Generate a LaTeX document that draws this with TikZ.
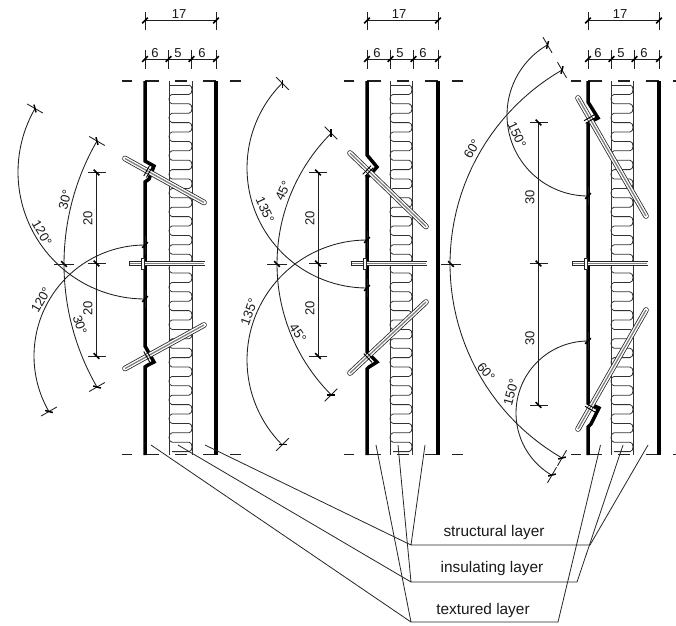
\documentclass[tikz,border=0pt]{standalone}
\usepackage{fontspec}
\setmainfont{Liberation Sans}
\tikzset{
  thinl/.style={draw=black!88,line width=0.85pt},
  slashl/.style={draw=black,line width=1.5pt},
  wallline/.style={draw=black,line width=3.5pt,miter limit=10},
  battline/.style={draw=black!80,line width=0.8pt},
  leader/.style={draw=black!85,line width=0.8pt},
  dim/.style={font=\fontsize{13}{15}\selectfont,inner sep=0pt,text=black!90},
  lab/.style={font=\fontsize{15.4}{17}\selectfont,inner sep=0pt,text=black!90},
}
\newcommand\tk[4][9]{%
  \draw[thinl] ({#2+#1*cos(#4)},{#3+#1*sin(#4)})--({#2-#1*cos(#4)},{#3-#1*sin(#4)});
  \draw[slashl] ({#2+4*cos(#4+45)},{#3+4*sin(#4+45)})--({#2-4*cos(#4+45)},{#3-4*sin(#4+45)});}
\newcommand\arcline[5]{\draw[thinl] plot[domain=#4:#5,samples=50] ({#1+#3*cos(\x)},{#2+#3*sin(\x)});}
% batt insulation between x=#1 and x=#2
\newcommand\batt[2]{%
  \draw[battline] (#1,81)--(#1,455) (#2,81)--(#2,455);
  \draw[battline] (#1,85)--(#2-3,85);
  \foreach \i in {0,...,38}{%
    \pgfmathsetmacro\ya{85+9.4*\i}\pgfmathsetmacro\yb{\ya+9.4}%
    \pgfmathtruncatemacro\odd{mod(\i,2)}%
    \ifnum\odd=0
      \draw[battline] (#2-3,\ya) .. controls (#2+1,\ya) and (#2+1,\yb) .. (#2-3,\yb)--(#1+3,\yb);
    \else
      \draw[battline] (#1+3,\ya) .. controls (#1-1,\ya) and (#1-1,\yb) .. (#1+3,\yb)--(#2-3,\yb);
    \fi}}
\newcommand\rodd[4]{%
  \draw[black!85,line width=5.6pt,line cap=round] (#1,#2)--(#3,#4);
  \draw[white,line width=4pt,line cap=round] (#1,#2)--(#3,#4);
  \draw[black!50,line width=1.3pt] (#1,#2)--(#3,#4);}
% washer: centre, angle of the rod
\newcommand\washer[3]{%
  \draw[black,line width=0.9pt] ({#1+1.5*cos(#3)+6*cos(#3+90)},{#2+1.5*sin(#3)+6*sin(#3+90)})--({#1+1.5*cos(#3)-6*cos(#3+90)},{#2+1.5*sin(#3)-6*sin(#3+90)})
   ({#1-1.5*cos(#3)+6*cos(#3+90)},{#2-1.5*sin(#3)+6*sin(#3+90)})--({#1-1.5*cos(#3)-6*cos(#3+90)},{#2-1.5*sin(#3)-6*sin(#3+90)});}
\newcommand\bolt[1]{%
  \draw[black!85,line width=5pt] (#1-16,263.5)--(#1+60,263.5);
  \draw[white,line width=3.5pt] (#1-15.5,263.5)--(#1+59.5,263.5);
  \draw[black!50,line width=1.6pt] (#1-15,263.5)--(#1+59,263.5);
  \draw[black!85,fill=white,line width=0.8pt] (#1-4,258)rectangle(#1-0.5,269);}
\newcommand\dashes[2]{%
  \foreach \y in {81,454.5}{%
    \draw[thinl,line width=1.1pt] (#1,\y)--(#1+10,\y) (#2,\y)--(#2+14,\y) (#2+30,\y)--(#2+42,\y) (#2+58,\y)--(#2+71,\y) (#2+85,\y)--(#2+96,\y);}}
\newcommand\topdims[1]{%
  \draw[thinl] (#1,20.5)--(#1+71,20.5) (#1,59)--(#1+71,59);
  \tk{#1}{20.5}{90}\tk{#1+71}{20.5}{90}
  \tk[9.5]{#1}{59}{90}\tk[9.5]{#1+23.5}{59}{90}\tk[9.5]{#1+46.5}{59}{90}\tk[9.5]{#1+71}{59}{90}}
\begin{document}
\begin{tikzpicture}[x=1pt,y=-1pt]
\fill[white] (0,0) rectangle (676,625);
\useasboundingbox (0,0) rectangle (676,625);
% ---------- layers
\batt{169}{192}\batt{390}{412}\batt{611}{633}
\dashes{122}{145}\dashes{344}{367}\dashes{571}{588}
% walls
\draw[wallline] (216,81)--(216,455) (438,81)--(438,455) (659,81)--(659,455);
\draw[wallline] (145,81)--(145,161)--(154,166)--(149,179)--(145,182)--(145,346)--(154,362)--(148,365)--(145,367)--(145,455);
\draw[wallline] (367,81)--(367,155)--(377,167)--(370,175)--(367,177)--(367,352)--(377,362)--(369,367)--(367,369)--(367,455);
\draw[wallline] (588,81)--(588,102)--(598,118)--(590,122)--(588,124)--(588,403)--(599,408)--(591,424)--(588,427)--(588,455);
% rods
\rodd{125}{158.5}{204}{202.5}\washer{148}{171.5}{29}
\rodd{125}{368.5}{204}{325}\washer{148}{356}{-29}
\rodd{350}{153}{426}{226.5}\washer{368}{171}{44}
\rodd{350}{373}{426}{302}\washer{369}{357}{-43}
\rodd{578}{98}{646}{216}\washer{590}{119}{60}
\rodd{578}{429}{646}{310}\washer{591}{408}{-60}
\bolt{145}\bolt{367}\bolt{588}
% top dimensions
\topdims{145}\topdims{367}\topdims{588}
\node[dim] (t1) at (179,14) {17};\node[dim] (a1) at (155,53) {6};\node[dim] (b1) at (178,53) {5};\node[dim] (c1) at (202,53) {6};
\node[dim] (t2) at (399,14) {17};\node[dim] (a2) at (377,53) {6};\node[dim] (b2) at (400,53) {5};\node[dim] (c2) at (423,53) {6};
\node[dim] (t3) at (620,14) {17};\node[dim] (a3) at (598,53) {6};\node[dim] (b3) at (621,53) {5};\node[dim] (c3) at (644,53) {6};
% vertical dimensions
\draw[thinl] (96.5,172.5)--(96.5,356) (318,172.5)--(318,356) (538.5,122.5)--(538.5,405);
\foreach \x/\a/\b in {96.5/172.5/356,318/172.5/356}{\tk{\x}{\a}{0}\tk{\x}{263.5}{0}\tk{\x}{\b}{0}}
\tk{538.5}{122.5}{0}\tk{538.5}{263.5}{0}\tk{538.5}{405}{0}
\tk[10]{64}{264}{0}\tk[10]{277}{264}{0}\tk[10]{451}{264}{0}
\node[dim,rotate=90] (d1) at (88,218) {20};\node[dim,rotate=90] (d2) at (88,308) {20};
\node[dim,rotate=90] (d3) at (310,218) {20};\node[dim,rotate=90] (d4) at (310,308) {20};
\node[dim,rotate=90] (d5) at (530,197) {30};\node[dim,rotate=90] (d6) at (530,338) {30};
% arcs, wall 1
\arcline{145}{172}{127}{90}{210}\tk{145}{299}{90}\tk{35}{108.5}{30}
\arcline{145}{356}{111}{150}{270}\tk{145}{245}{90}\tk{49}{411.5}{-30}
\arcline{310}{264}{246}{150}{210}\tk{97}{141}{30}\tk{97}{387}{-30}
\node[dim,rotate=-60] (e1) at (42,233) {120°};
\node[dim,rotate=60] (e2) at (41,300) {120°};
\node[dim,rotate=75] (e3) at (65,200) {30°};
\node[dim,rotate=-72] (e4) at (80,325) {30°};
% arcs, wall 2
\arcline{367}{168}{120}{90}{225}\tk{367}{288}{90}\tk{282.5}{83.5}{45}
\arcline{367}{360}{120}{135}{270}\tk{367}{240}{90}\tk{282.5}{444.5}{-45}
\arcline{462}{264}{185}{135}{225}\tk{331}{133}{45}\tk{331}{395}{-45}
\node[dim,rotate=-65] (f1) at (265,210) {135°};
\node[dim,rotate=70] (f2) at (249,312) {135°};
\node[dim,rotate=65] (f3) at (283,191) {45°};
\node[dim,rotate=-55] (f4) at (298,333) {45°};
% arcs, wall 3
\arcline{588}{115}{81}{90}{240}\tk{588}{196}{90}\tk{547.5}{45}{60}
\arcline{588}{413}{72}{120}{270}\tk{588}{341}{90}\tk{552}{475}{-60}
\arcline{674}{264}{224}{120}{240}\tk{562}{70}{60}\tk{562}{458}{-60}
\node[dim,rotate=60] (g1) at (472,149) {60°};
\node[dim,rotate=-50] (g2) at (486,372) {60°};
\node[dim,rotate=-65] (g3) at (517,135) {150°};
\node[dim,rotate=75] (g4) at (511,392) {150°};
% leaders
\node[lab] (slab) at (494,533) {structural layer};
\node[lab] (ilab) at (492,569) {insulating layer};
\node[lab] (tlab) at (483,611) {textured layer};
\coordinate (sL) at (411,545);\coordinate (sR) at (590,545);
\coordinate (iL) at (411,582);\coordinate (iR) at (577,582);
\coordinate (tL) at (411,622);\coordinate (tR) at (558,622);
\coordinate (s1) at (205,445);\coordinate (s2) at (425,445);\coordinate (s3) at (648,445);
\coordinate (i1) at (178,445);\coordinate (i2) at (398,445);\coordinate (i3) at (623,445);
\coordinate (l1) at (151,445);\coordinate (l2) at (376,445);\coordinate (l3) at (600.5,445);
\draw[leader] (s1)--(sL)--(sR)--(s3) (s2)--(sL);
\draw[leader] (i1)--(iL)--(iR)--(i3) (i2)--(iL);
\draw[leader] (l1)--(tL)--(tR)--(l3) (l2)--(tL);
\end{tikzpicture}
\end{document}
